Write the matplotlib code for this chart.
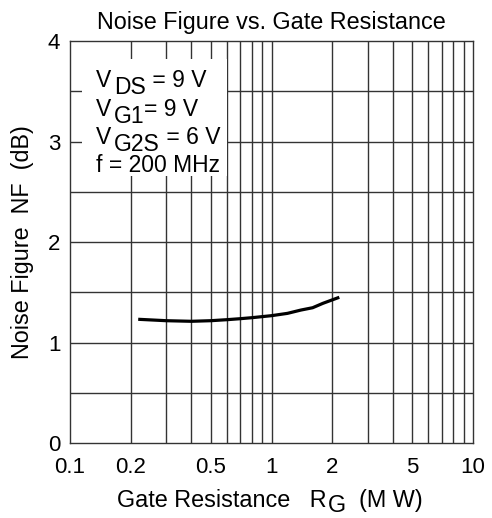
import numpy as np
import matplotlib.pyplot as plt
from matplotlib.ticker import FixedLocator, NullFormatter, NullLocator

plt.rcParams['font.family'] = ['Liberation Sans', 'DejaVu Sans']

# gate resistance (M ohm) and noise figure (dB)
rg = [0.218, 0.3, 0.4, 0.5, 0.6, 0.7, 0.8, 1.0, 1.2, 1.4, 1.6, 1.8, 2.17]
nf = [1.231, 1.217, 1.211, 1.217, 1.227, 1.237, 1.247, 1.267, 1.29, 1.323, 1.346, 1.39, 1.45]

x_ticks = [0.1, 0.2, 0.5, 1, 2, 5, 10]
x_tick_labels = ['0.1', '0.2', '0.5', '1', '2', '5', '10']
y_ticks = [0, 1, 2, 3, 4]
x_grid = [m * 10.0 ** e for e in (-1, 0) for m in range(2, 10)] + [1]
y_grid = [0.5, 1, 1.5, 2, 2.5, 3, 3.5]

fig = plt.figure(figsize=(4.92, 5.18), dpi=100)
ax = fig.add_axes([0.1423, 0.1448, 0.8191, 0.776])

ax.set_xscale('log')
ax.set_xlim(0.1, 10)
ax.set_ylim(0, 4)

for v in x_grid:
    ax.axvline(v, color='#333333', lw=1.0, zorder=1)
for v in y_grid:
    ax.axhline(v, color='#333333', lw=1.0, zorder=1)

ax.plot(rg, nf, color='black', lw=2.3, solid_capstyle='butt', zorder=3)

ax.xaxis.set_major_locator(FixedLocator(x_ticks))
ax.set_xticklabels(x_tick_labels)
ax.xaxis.set_minor_locator(NullLocator())
ax.xaxis.set_minor_formatter(NullFormatter())
ax.set_yticks(y_ticks)
ax.tick_params(length=0, labelsize=16, colors='black')
ax.tick_params(axis='x', pad=10)
ax.tick_params(axis='y', pad=7)
for s in ax.spines.values():
    s.set_color('#333333')
    s.set_linewidth(1.0)

ax.set_title('Noise Figure vs. Gate Resistance', fontsize=16.8, pad=9)
ax.set_ylabel('Noise Figure  NF  (dB)', fontsize=16.8, labelpad=10)

# white patch behind the condition text
ax.add_patch(plt.Rectangle((0.03, 0.665), 0.36, 0.29, transform=ax.transAxes,
                           facecolor='white', edgecolor='none', zorder=2))

fs = 16.5
def sub_line(y, main, sub, rest):
    t1 = ax.text(0.064, y, main, transform=ax.transAxes, fontsize=fs,
                 va='bottom', ha='left', zorder=4)
    t2 = ax.annotate(sub, xy=(1, 0), xycoords=t1, xytext=(2, -5),
                     textcoords='offset points', fontsize=fs, va='bottom',
                     ha='left', zorder=4)
    ax.annotate(rest, xy=(1, 0), xycoords=t2, xytext=(0, 5),
                textcoords='offset points', fontsize=fs, va='bottom',
                ha='left', zorder=4)

sub_line(0.872, 'V', 'DS', ' = 9 V')
sub_line(0.802, 'V', 'G1', '= 9 V')
sub_line(0.732, 'V', 'G2S', ' = 6 V')
ax.text(0.064, 0.662, 'f = 200 MHz', transform=ax.transAxes, fontsize=fs,
        va='bottom', ha='left', zorder=4)

# x label with lowered subscript
xfs = 16.8
xl1 = fig.text(0.238, 0.012, 'Gate Resistance   R', fontsize=xfs, va='bottom', ha='left')
xl2 = ax.annotate('G', xy=(1, 0), xycoords=xl1, xytext=(1, -4),
                  textcoords='offset points', fontsize=xfs, va='bottom', ha='left')
ax.annotate('  (M W)', xy=(1, 0), xycoords=xl2, xytext=(0, 4),
            textcoords='offset points', fontsize=xfs, va='bottom', ha='left')

fig.savefig('out.png', dpi=100)
